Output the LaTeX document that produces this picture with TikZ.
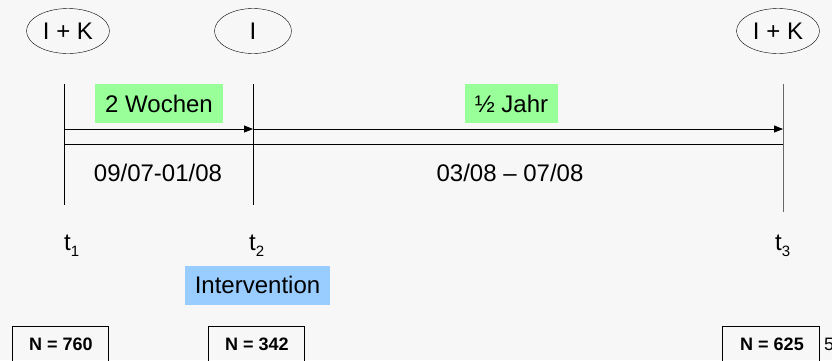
\documentclass[tikz,border=0pt]{standalone}
\usepackage{fontspec}
\setmainfont{Liberation Sans}
\usetikzlibrary{arrows.meta,shapes.geometric}
\definecolor{bg}{HTML}{F7F7F7}
\definecolor{lgreen}{HTML}{99FF99}
\definecolor{lblue}{HTML}{99CCFF}
\newcommand{\subx}[1]{\raisebox{-6pt}{\fontsize{15}{15}\selectfont #1}}
\tikzset{
  oval/.style={draw, ellipse, minimum width=#1, minimum height=45pt, inner sep=0pt, font=\fontsize{24}{28}\selectfont},
  lbl/.style={font=\fontsize{24}{28}\selectfont, inner sep=0pt},
  greenbox/.style={fill=lgreen, inner sep=0pt, minimum height=39pt, font=\fontsize{24}{28}\selectfont},
  bluebox/.style={fill=lblue, inner sep=0pt, minimum height=39pt, font=\fontsize{24}{28}\selectfont},
  nbox/.style={draw, line width=0.8pt, inner sep=0pt},
  ntext/.style={inner sep=0pt, font=\bfseries\fontsize{18}{20}\selectfont},
  tick/.style={line width=0.8pt},
  arr/.style={line width=0.8pt, -{Triangle[length=9pt,width=7pt]}},
}
\begin{document}
\begin{tikzpicture}[x=1pt,y=-1pt]
\useasboundingbox (0,0) rectangle (832,360);
\clip (0,0) rectangle (832,360);
\fill[bg] (0,0) rectangle (832,360);
% ovals
\node[oval=83pt] (o1) at (68,31) {I + K};
\node[oval=77pt] (o2) at (253,31) {I};
\node[oval=83pt] (o3) at (778,31) {I + K};
% vertical lines
\coordinate (a1) at (64,84);  \coordinate (b1) at (64,205);
\coordinate (a2) at (253,84); \coordinate (b2) at (253,205);
\coordinate (a3) at (783,84); \coordinate (b3) at (783,212);
\draw[tick] (a1) -- (b1);
\draw[tick] (a2) -- (b2);
\draw[tick, black!60] (a3) -- (b3);
% arrows
\coordinate (p1) at (64,129); \coordinate (p2) at (253,129); \coordinate (p3) at (783,129);
\draw[arr] (p1) -- (p2);
\draw[arr] (p2) -- (p3);
\coordinate (q1) at (64,144); \coordinate (q3) at (783,144);
\draw[tick] (q1) -- (q3);
% labels
\node[greenbox, minimum width=128pt] (g1) at (159,103.5) {2 Wochen};
\node[greenbox, minimum width=93pt] (g2) at (511.5,103.5) {½ Jahr};
\node[lbl] (d1) at (158,173) {09/07-01/08};
\node[lbl] (d2) at (510,173) {03/08 -- 07/08};
\node[lbl, anchor=base west] (t1) at (64,250) {t\subx{1}};
\node[lbl, anchor=base west] (t2) at (249,250) {t\subx{2}};
\node[lbl, anchor=base west] (t3) at (775,250) {t\subx{3}};
\node[bluebox, minimum width=145pt] (iv) at (257.5,285) {Intervention};
% N boxes
\node[nbox, minimum width=96pt, minimum height=46pt, anchor=north west] (n1) at (12,326) {};
\node[ntext, anchor=base] (m1) at (61,350) {N = 760};
\node[nbox, minimum width=96pt, minimum height=46pt, anchor=north west] (n2) at (208,326) {};
\node[ntext, anchor=base] (m2) at (257,350) {N = 342};
\node[nbox, minimum width=97pt, minimum height=46pt, anchor=north west] (n3) at (722,326) {};
\node[ntext, anchor=base] (m3) at (772,350) {N = 625};
\node[lbl, font=\fontsize{18}{20}\selectfont, anchor=base west] (pg) at (824,350) {5};
\end{tikzpicture}
\end{document}
